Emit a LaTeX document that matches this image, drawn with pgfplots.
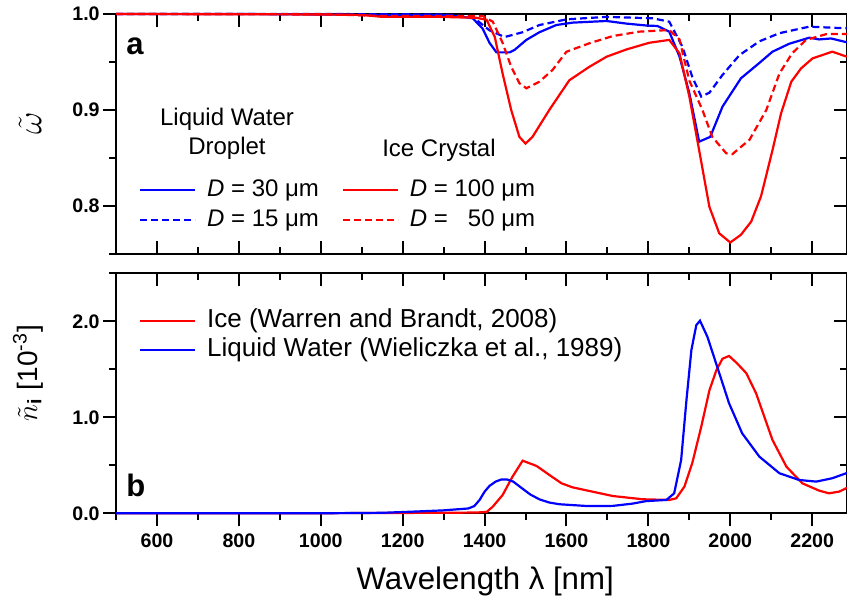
\documentclass[border=0pt]{standalone}
\usepackage{fontspec}
\setmainfont{Liberation Sans}
\usepackage{pgfplots}
\usepackage{pgfplotstable}
\pgfplotsset{compat=1.18}

\definecolor{pblue}{RGB}{0,0,255}
\definecolor{pred}{RGB}{255,0,0}

% Single-scattering albedo, liquid droplets (D = 30 and 15 um)
\pgfplotstableread{
lam   w
500   1.0
800   1.0
1000  0.9995
1100  0.999
1290  0.999
1340  0.9975
1371  0.9955
1395  0.985
1412  0.970
1429  0.960
1461  0.960
1473  0.9625
1502  0.973
1534  0.981
1575  0.9885
1615  0.991
1698  0.9927
1746  0.990
1795  0.988
1822  0.9875
1851  0.9816
1876  0.9556
1900  0.9176
1924  0.867
1951  0.872
1981  0.9035
2026  0.933
2071  0.949
2103  0.9607
2144  0.969
2193  0.9753
2217  0.9735
2246  0.9745
2285  0.9705
}\wthirty
\pgfplotstableread{
lam   w
500   1.0
1000  1.0
1300  0.9995
1371  0.997
1412  0.983
1449  0.976
1493  0.981
1534  0.9885
1600  0.9944
1698  0.997
1810  0.9955
1851  0.992
1883  0.966
1907  0.9347
1929  0.914
1949  0.918
1981  0.9365
2022  0.957
2071  0.9715
2120  0.980
2193  0.9868
2285  0.985
}\wfifteen
% Single-scattering albedo, ice crystals (D = 100 and 50 um)
\pgfplotstableread{
lam   w
500   1.0
1000  0.9995
1100  0.999
1150  0.997
1290  0.997
1380  0.996
1405  0.994
1425  0.976
1444  0.938
1465  0.900
1485  0.872
1500  0.865
1517  0.872
1558  0.900
1607  0.931
1656  0.945
1698  0.9555
1746  0.963
1802  0.970
1851  0.973
1876  0.959
1900  0.914
1924  0.858
1949  0.799
1973  0.7715
2000  0.762
2026  0.770
2051  0.7837
2075  0.810
2103  0.858
2124  0.8965
2149  0.9295
2173  0.9434
2201  0.9538
2249  0.9607
2285  0.9555
}\ihundred
\pgfplotstableread{
lam   w
500   1.0
1000  0.9998
1150  0.998
1300  0.998
1395  0.998
1420  0.992
1444  0.970
1465  0.945
1485  0.928
1502  0.9226
1534  0.9295
1566  0.9417
1600  0.9607
1656  0.9695
1713  0.977
1778  0.9816
1851  0.9833
1876  0.9734
1900  0.9306
1932  0.900
1956  0.872
1990  0.8549
2005  0.854
2047  0.869
2088  0.900
2120  0.938
2151  0.959
2185  0.973
2234  0.979
2285  0.9792
}\ififty
% Imaginary refractive index (x 1e-3)
\pgfplotstableread{
lam   n
500   0
1000  0.001
1300  0.005
1380  0.008
1405  0.014
1420  0.069
1444  0.19
1468  0.38
1493  0.548
1527  0.493
1558  0.40
1588  0.312
1615  0.27
1656  0.232
1713  0.18
1786  0.146
1851  0.139
1868  0.156
1888  0.278
1907  0.52
1929  0.90
1949  1.28
1966  1.49
1981  1.61
1997  1.639
2017  1.56
2039  1.46
2063  1.25
2103  0.764
2137  0.486
2176  0.312
2217  0.236
2241  0.208
2266  0.226
2285  0.265
}\nice
\pgfplotstableread{
lam   n
500   0
1000  0.0
1150  0.005
1224  0.017
1298  0.03
1360  0.05
1375  0.075
1388  0.14
1400  0.225
1412  0.285
1427  0.330
1441  0.352
1455  0.352
1470  0.330
1493  0.255
1512  0.195
1534  0.145
1558  0.112
1583  0.094
1649  0.076
1713  0.077
1760  0.100
1795  0.127
1844  0.139
1863  0.208
1880  0.555
1893  1.18
1905  1.70
1917  1.96
1926  2.006
1944  1.84
1968  1.527
1997  1.146
2029  0.833
2071  0.59
2120  0.417
2168  0.347
2210  0.33
2249  0.365
2285  0.42
}\nwater

\pgfplotsset{
  panel/.style={
    scale only axis, width=365.5pt, height=120pt,
    xmin=500, xmax=2285,
    axis line style={line width=1pt},
    every tick/.style={black, line width=1pt},
    major tick length=6.5pt, minor tick length=3.5pt,
    /pgf/number format/assume math mode=true,
    /pgf/number format/1000 sep={},
    ticklabel style={font=\fontsize{9.8}{11}\selectfont\bfseries},
    yticklabel style={inner xsep=1.5pt, /pgf/number format/.cd, fixed, fixed zerofill, precision=1},
  },
  curve/.style={line width=1.1pt, no marks},
  dashcurve/.style={line width=1.1pt, no marks, dash pattern=on 3.5pt off 2pt},
  % 27.5pt key line followed by a 6pt blank gap before the entry text
  legend image code/.code={\draw[#1] (0pt,0pt) -- (27.5pt,0pt);
    \path[draw=none, fill=none] (33.5pt,0pt) -- (33.5pt,0.01pt);},
  toplegend/.style={legend style={draw=none, fill=none, inner sep=0pt, outer sep=0pt,
    at={(axis description cs:#1,0.316)}, anchor=north west,
    font=\fontsize{12}{14}\selectfont, row sep=3.5pt,
    nodes={inner sep=0pt, text height=9pt, text depth=2.5pt}},
    legend cell align=left},
}

\begin{document}
\begin{tikzpicture}
% ---- panel a: single-scattering albedo ----
% frame with inward ticks on top, bottom and right; carries the ice legend
\begin{axis}[panel, at={(58pt,171.5pt)}, anchor=south west,
  ymin=0.75, ymax=1.0,
  ytick={0.8,0.9,1.0}, minor ytick={0.75,0.85,0.95},
  xtick={600,800,...,2200}, minor xtick={500,700,...,2100},
  tick align=inside, ytick pos=right, xtick pos=both,
  xticklabels={}, yticklabels={}, toplegend=0.309]
\addlegendimage{curve, pred}
\addlegendentry{\textit{D} = 100 μm}
\addlegendimage{dashcurve, pred}
\addlegendentry{\textit{D} = \hphantom{1}50 μm}
\end{axis}
% curves, outward left ticks and the droplet legend
\begin{axis}[panel, at={(58pt,171.5pt)}, anchor=south west,
  ymin=0.75, ymax=1.0, clip=false,
  ytick={0.8,0.9,1.0}, minor ytick={0.75,0.85,0.95},
  xtick=\empty, minor xtick={},
  tick align=outside, ytick pos=left, toplegend=0.0315]
\addplot[curve, pblue] table[x=lam, y=w] {\wthirty};
\addlegendentry{\textit{D} = 30 μm}
\addplot[dashcurve, pblue] table[x=lam, y=w] {\wfifteen};
\addlegendentry{\textit{D} = 15 μm}
\addplot[curve, pred, forget plot] table[x=lam, y=w] {\ihundred};
\addplot[dashcurve, pred, forget plot] table[x=lam, y=w] {\ififty};
\end{axis}

% ---- panel b: imaginary refractive index ----
\begin{axis}[panel, at={(58pt,41.85pt)}, anchor=south west,
  ymin=0, ymax=2.5,
  ytick={0,1,2}, minor ytick={0.5,1.5,2.5},
  xtick={600,800,...,2200}, minor xtick={500,700,...,2100},
  tick align=inside, ytick pos=right, xtick pos=top,
  xticklabels={}, yticklabels={}]
\end{axis}
\begin{axis}[panel, at={(58pt,41.85pt)}, anchor=south west,
  ymin=0, ymax=2.5, clip=false,
  ytick={0,1,2}, minor ytick={0.5,1.5,2.5},
  xtick={600,800,...,2200}, minor xtick={500,700,...,2100},
  tick align=outside, ytick pos=left, xtick pos=bottom,
  xlabel={Wavelength λ [nm]},
  xlabel style={font=\fontsize{15.6}{18}\selectfont, at={(axis description cs:0.505,0)}, anchor=base, yshift=-38.3pt},
  legend style={draw=none, fill=none, inner sep=0pt, outer sep=0pt,
    at={(axis description cs:0.0315,0.854)}, anchor=north west,
    font=\fontsize{13}{15}\selectfont, row sep=1.5pt,
    nodes={inner sep=0pt, text height=9.8pt, text depth=3.2pt}},
  legend cell align=left]
\addplot[curve, pred] table[x=lam, y=n] {\nice};
\addlegendentry{Ice (Warren and Brandt, 2008)}
\addplot[curve, pblue] table[x=lam, y=n] {\nwater};
\addlegendentry{Liquid Water (Wieliczka et al., 1989)}
\end{axis}

% legend headings and panel letters
\node[anchor=base, font=\fontsize{12}{14}\selectfont] at (113.5pt,235.5pt) {Liquid Water};
\node[anchor=base, font=\fontsize{12}{14}\selectfont] at (113.5pt,221pt) {Droplet};
\node[anchor=base, font=\fontsize{12}{14}\selectfont] at (219.5pt,220pt) {Ice Crystal};
\node[anchor=base west, inner sep=0pt, font=\fontsize{15.5}{18}\selectfont\bfseries] at (63pt,271pt) {a};
\node[anchor=base west, inner sep=0pt, font=\fontsize{15.5}{18}\selectfont\bfseries] at (63pt,50pt) {b};

% axis titles
\node[rotate=90, font=\fontsize{16}{18}\selectfont] at (15pt,237pt) {$\tilde{\omega}$};
\node[rotate=90, font=\fontsize{14}{17}\selectfont] at (14pt,112pt) {$\tilde{n}_{\mathbf{i}}$ [10\textsuperscript{-3}]};

\pgfresetboundingbox
\useasboundingbox (0,0) rectangle (423.5pt,298.5pt);
\end{tikzpicture}
\end{document}
